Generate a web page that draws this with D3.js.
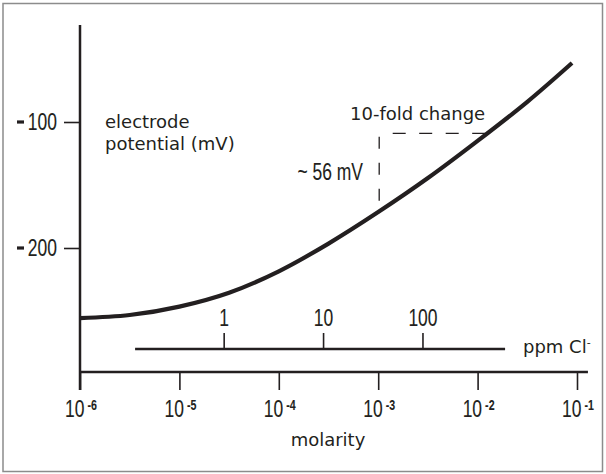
<!DOCTYPE html>
<html>
<head>
<meta charset="utf-8">
<script src="https://cdn.jsdelivr.net/npm/d3@7"></script>
<style>
  html, body { margin: 0; padding: 0; background: #fff; }
  svg { display: block; }
</style>
</head>
<body>
<svg id="chart" width="606" height="474"></svg>
<script>
// ---- data ----
const logMolarity = [-6, -5.5, -5, -4.5, -4, -3.5, -3, -2.5, -2, -1.5, -1.05];
const potential_mV = [-255.6, -253.2, -246.5, -235.5, -218.5, -196.5, -171.5, -144.5, -115, -84, -53.2];
const molarityTicks = [1e-6, 1e-5, 1e-4, 1e-3, 1e-2, 1e-1];
const molarityExponents = ["-6", "-5", "-4", "-3", "-2", "-1"];
const potentialTicks = [-100, -200];
const potentialTickLabels = ["100", "200"];
const ppmTicks = [1, 10, 100];
const ppmRange = [0.127, 670];
const ppmPerMolar = 35450; // mg Cl- per litre for 1 M
// annotation: 10-fold change from 1e-3 M, level of -109 mV
const foldStart = 1e-3, foldEnd = Math.pow(10, -1.925), foldLevel = -109, foldBottom = -172;

// ---- layout ----
const svg = d3.select("#chart");
const ink = "#231f20";
const textFont = "'DejaVu Sans', sans-serif";
const numFont = "'Liberation Sans', Arial, sans-serif";
const squeeze = 0.76;

function narrowText(px, py, anchor) {
  return svg.append("text")
    .attr("transform", `translate(${px},${py}) scale(${squeeze},1)`)
    .attr("text-anchor", anchor).attr("fill", ink)
    .attr("stroke", ink).attr("stroke-width", 0.1)
    .attr("font-family", numFont).attr("font-size", 23);
}

const x = d3.scaleLog().domain([1e-6, 1e-1]).range([80, 577]);
const y = d3.scaleLinear().domain([-200, -100]).range([248, 122]);
const xPpm = v => x(v / ppmPerMolar);
const axisY = 372, ppmAxisY = 349;

// frame
svg.append("rect").attr("x", 3).attr("y", 3.5).attr("width", 599.5).attr("height", 468)
  .attr("fill", "none").attr("stroke", "#8c8c8c").attr("stroke-width", 1.5);

// y axis line
svg.append("line").attr("x1", x(1e-6)).attr("x2", x(1e-6))
  .attr("y1", y(-23)).attr("y2", axisY + 18)
  .attr("stroke", ink).attr("stroke-width", 2.5);

// x axis
const xAxis = d3.axisBottom(x).tickValues(molarityTicks).tickSize(18).tickFormat("");
const gx = svg.append("g").attr("transform", `translate(0,${axisY})`).call(xAxis);
gx.select(".domain").remove();
gx.selectAll(".tick line").attr("stroke", ink).attr("stroke-width", 1.6);
svg.append("line").attr("x1", x(1e-6)).attr("x2", x(Math.pow(10, -0.89)))
  .attr("y1", axisY).attr("y2", axisY).attr("stroke", ink).attr("stroke-width", 2.5);

// x tick labels 10^n
molarityTicks.forEach((t, i) => {
  const tx = narrowText(x(t) + 1, 417, "middle");
  tx.append("tspan").text("10");
  tx.append("tspan").attr("font-size", 14).attr("dx", 4).attr("dy", -7)
    .attr("font-weight", "bold").text(molarityExponents[i]);
});

svg.append("text").attr("x", 328).attr("y", 446).attr("text-anchor", "middle")
  .attr("fill", ink).attr("font-family", textFont).attr("font-size", 18).text("molarity");

// y axis ticks
const yAxis = d3.axisLeft(y).tickValues(potentialTicks).tickSize(16).tickFormat("");
const gy = svg.append("g").attr("transform", `translate(${x(1e-6)},0)`).call(yAxis);
gy.select(".domain").remove();
gy.selectAll(".tick line").attr("stroke", ink).attr("stroke-width", 1.6);
potentialTicks.forEach((t, i) => {
  svg.append("line").attr("x1", 17).attr("x2", 24).attr("y1", y(t)).attr("y2", y(t))
    .attr("stroke", ink).attr("stroke-width", 3.2);
  narrowText(57, y(t) + 8, "end").text(potentialTickLabels[i]);
});

svg.append("text").attr("x", 105).attr("y", 127.5).attr("fill", ink)
  .attr("font-family", textFont).attr("font-size", 18).text("electrode");
svg.append("text").attr("x", 105).attr("y", 150).attr("fill", ink)
  .attr("font-family", textFont).attr("font-size", 18).text("potential (mV)");

// ppm axis
svg.append("line").attr("x1", xPpm(ppmRange[0])).attr("x2", xPpm(ppmRange[1]))
  .attr("y1", ppmAxisY).attr("y2", ppmAxisY).attr("stroke", ink).attr("stroke-width", 2.4);
ppmTicks.forEach(t => {
  svg.append("line").attr("x1", xPpm(t)).attr("x2", xPpm(t))
    .attr("y1", ppmAxisY).attr("y2", ppmAxisY - 16).attr("stroke", ink).attr("stroke-width", 1.6);
  narrowText(xPpm(t), 326, "middle").text(t);
});
const ppmLabel = svg.append("text").attr("x", 523).attr("y", 353).attr("fill", ink)
  .attr("font-family", textFont).attr("font-size", 18);
ppmLabel.append("tspan").text("ppm Cl");
ppmLabel.append("tspan").attr("font-size", 11).attr("dy", -7).text("-");

// curve
const pts = logMolarity.map((lm, i) => [Math.pow(10, lm), potential_mV[i]]);
const line = d3.line().x(d => x(d[0])).y(d => y(d[1])).curve(d3.curveCatmullRom.alpha(0.5));
svg.append("path").datum(pts).attr("d", line).attr("fill", "none")
  .attr("stroke", ink).attr("stroke-width", 4.2);

// annotation dashed lines
svg.append("line").attr("x1", x(foldStart) + 1).attr("x2", x(foldStart) + 1)
  .attr("y1", y(foldLevel) + 3.4).attr("y2", y(foldBottom))
  .attr("stroke", ink).attr("stroke-width", 1.3).attr("stroke-dasharray", "12,14");
svg.append("line").attr("x1", x(foldStart) + 1).attr("x2", x(foldEnd))
  .attr("y1", y(foldLevel)).attr("y2", y(foldLevel))
  .attr("stroke", ink).attr("stroke-width", 1.3)
  .attr("stroke-dasharray", "13,13.5").attr("stroke-dashoffset", 13);

svg.append("text").attr("x", 350).attr("y", 119.5).attr("fill", ink)
  .attr("font-family", textFont).attr("font-size", 18).text("10-fold change");
narrowText(363, 180, "end").text("~ 56 mV");
</script>
</body>
</html>
